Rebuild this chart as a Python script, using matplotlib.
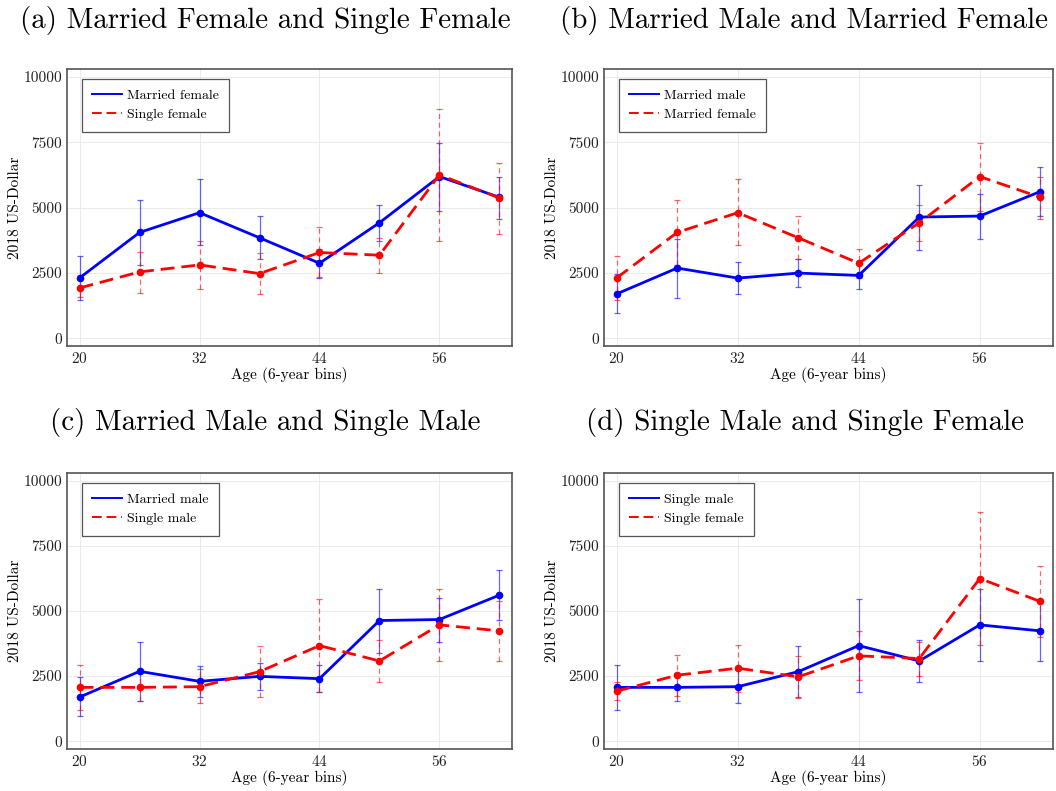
import matplotlib
matplotlib.use("Agg")
import matplotlib.pyplot as plt
import numpy as np

plt.rcParams['font.family'] = ['cmr10', 'DejaVu Serif']
plt.rcParams['mathtext.fontset'] = 'cm'
plt.rcParams['axes.formatter.use_mathtext'] = True

ages = [20, 26, 32, 38, 44, 50, 56, 62]

married_female = [2305, 4046, 4802, 3841, 2868, 4417, 6184, 5390]
married_female_lo = [1472, 2817, 3560, 3022, 2305, 3700, 4878, 4571]
married_female_hi = [3137, 5288, 6082, 4673, 3431, 5109, 7452, 6184]

single_female = [1921, 2535, 2804, 2471, 3278, 3175, 6248, 5365]
single_female_lo = [1579, 1741, 1895, 1677, 2343, 2510, 3713, 3995]
single_female_hi = [2272, 3303, 3713, 3265, 4238, 3828, 8784, 6722]

married_male = [1694, 2683, 2298, 2490, 2400, 4634, 4673, 5610]
married_male_lo = [950, 1553, 1682, 1964, 1874, 3376, 3800, 4660]
married_male_hi = [2452, 3800, 2901, 3017, 2927, 5854, 5507, 6560]

single_male = [2067, 2067, 2093, 2670, 3671, 3081, 4467, 4236]
single_male_lo = [1181, 1528, 1476, 1694, 1874, 2272, 3081, 3081]
single_male_hi = [2927, 2619, 2760, 3646, 5468, 3890, 5854, 5379]

series = {
    'Married female': (married_female, married_female_lo, married_female_hi),
    'Single female': (single_female, single_female_lo, single_female_hi),
    'Married male': (married_male, married_male_lo, married_male_hi),
    'Single male': (single_male, single_male_lo, single_male_hi),
}

panels = [
    ("(a) Married Female and Single Female", "Married female", "Single female"),
    ("(b) Married Male and Married Female", "Married male", "Married female"),
    ("(c) Married Male and Single Male", "Married male", "Single male"),
    ("(d) Single Male and Single Female", "Single male", "Single female"),
]

W, H = 1056, 791
fig = plt.figure(figsize=(W / 100, H / 100), dpi=100)

# axes rectangles in pixels: left, top, right, bottom
rects = [(67, 69, 512, 346), (604, 69, 1053, 346),
         (67, 473, 512, 749), (604, 473, 1053, 749)]
title_y = [20, 20, 422, 422]

BLUE = (0, 0, 1)
RED = (1, 0, 0)
FRAME = '#555555'

for (title, s1, s2), (l, t, r, b), ty in zip(panels, rects, title_y):
    ax = fig.add_axes([l / W, 1 - b / H, (r - l) / W, (b - t) / H])
    for name, color, ls, dash in [(s1, BLUE, '-', None), (s2, RED, '--', (5, 2.5))]:
        y, lo, hi = series[name]
        y = np.array(y); lo = np.array(lo); hi = np.array(hi)
        err = [y - lo, hi - y]
        eb = ax.errorbar(ages, y, yerr=err, fmt='none', ecolor=color, elinewidth=0.9,
                         capsize=1.9, capthick=0.9, alpha=0.6, zorder=2)
        if ls == '--':
            for coll in eb[2]:
                coll.set_linestyle((0, (4, 3)))
        line, = ax.plot(ages, y, color=color, lw=2.0, linestyle=ls, marker='o',
                        markersize=4.5, label=name, zorder=3)
        if dash:
            line.set_dashes(dash)
    ax.set_xlim(18.74, 63.26)
    ax.set_ylim(-300, 10300)
    ax.set_xticks([20, 32, 44, 56])
    ax.set_yticks([0, 2500, 5000, 7500, 10000])
    ax.set_yticklabels(['0', '2500', '5000', '7500', '10000'])
    ax.grid(True, color='#e8e8e8', lw=0.6)
    ax.set_axisbelow(True)
    ax.tick_params(length=0, labelsize=11, colors='#222222', pad=3.5)
    for sp in ax.spines.values():
        sp.set_color(FRAME)
        sp.set_linewidth(1.2)
    ax.set_xlabel('Age (6-year bins)', fontsize=11, labelpad=1)
    ax.set_ylabel('2018 US-Dollar', fontsize=11, labelpad=1)
    cx = (l + r) / 2 - 24
    fig.text(cx / W, 1 - ty / H, title, fontsize=20.9, ha='center', va='center')
    aw, ah = r - l, b - t
    leg = ax.legend(loc='upper left', bbox_to_anchor=(15 / aw, 1 - 10 / ah),
                    fontsize=10, frameon=True, fancybox=False,
                    edgecolor=FRAME, framealpha=1, borderpad=0.75, handlelength=2.1,
                    handletextpad=0.4, borderaxespad=0, labelspacing=0.45)
    leg.get_frame().set_linewidth(0.9)
    for h in leg.get_lines():
        h.set_marker('')
        h.set_linewidth(1.4)

fig.savefig('out.png', dpi=100)
